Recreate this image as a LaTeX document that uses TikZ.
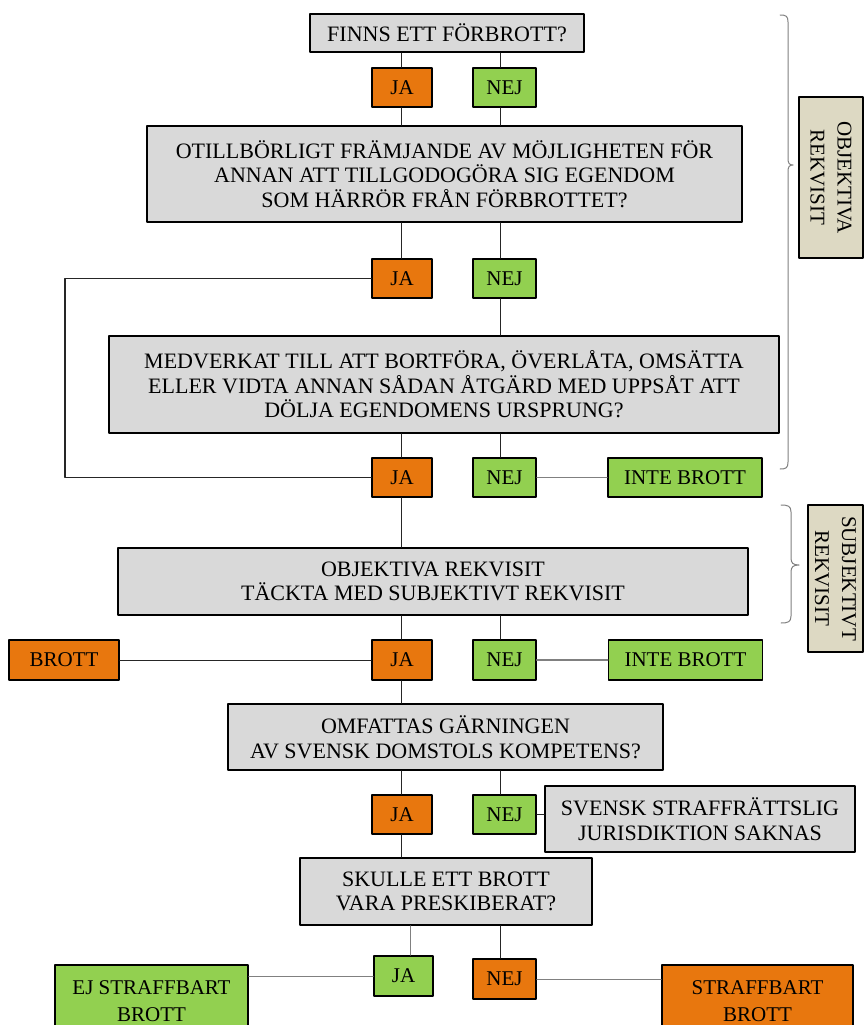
\documentclass[tikz,border=0pt]{standalone}
\usepackage{fontspec}
\setmainfont{Liberation Serif}
\definecolor{boxgray}{HTML}{D9D9D9}
\definecolor{jaorange}{HTML}{E8770E}
\definecolor{nejgreen}{HTML}{92D050}
\definecolor{labelbeige}{HTML}{DDD9C3}
\begin{document}
\begin{tikzpicture}[x=1pt, y=-1pt, font=\fontsize{22}{24.5}\selectfont, line join=round, line cap=round,
	qbox/.style={draw=black, line width=1.6pt, fill=boxgray, inner sep=0pt, align=center},
	orbox/.style={draw=black, line width=1.6pt, fill=jaorange, inner sep=0pt, minimum height=39pt, align=center, font=\fontsize{21}{27}\selectfont},
	grbox/.style={draw=black, line width=1.6pt, fill=nejgreen, inner sep=0pt, minimum height=39pt, align=center, font=\fontsize{21}{27}\selectfont},
	lblbox/.style={draw=black, line width=1.6pt, fill=labelbeige, inner sep=0pt, align=center, rotate=-90, font=\fontsize{21}{27}\selectfont},
	conn/.style={draw=black!85, line width=1pt},
	brace/.style={draw=gray, line width=1pt}]
	\useasboundingbox (0,0) rectangle (864,1025);
	% first question
	\node[qbox, line width=2.4pt, minimum width=274pt, minimum height=38pt] (q1) at (447,33) {FINNS ETT FÖRBROTT?};
	\node[orbox, minimum width=60pt] (ja1) at (402,87.5) {JA};
	\node[grbox, minimum width=63pt] (nej1) at (504.5,87.5) {NEJ};
	\node[qbox, minimum width=595pt, minimum height=96pt] (q2) at (444.5,174) {OTILLBÖRLIGT FRÄMJANDE AV MÖJLIGHETEN FÖR\\ANNAN ATT TILLGODOGÖRA SIG EGENDOM\\SOM HÄRRÖR FRÅN FÖRBROTTET?};
	\node[orbox, minimum width=60pt] (ja2) at (402,278.5) {JA};
	\node[grbox, minimum width=63pt] (nej2) at (504.5,278.5) {NEJ};
	\node[qbox, minimum width=670pt, minimum height=97pt] (q3) at (444,384.5) {MEDVERKAT TILL ATT BORTFÖRA, ÖVERLÅTA, OMSÄTTA\\ELLER VIDTA ANNAN SÅDAN ÅTGÄRD MED UPPSÅT ATT\\DÖLJA EGENDOMENS URSPRUNG?};
	\node[orbox, minimum width=60pt] (ja3) at (402,477.5) {JA};
	\node[grbox, minimum width=63pt] (nej3) at (504.5,477.5) {NEJ};
	\node[grbox, minimum width=154pt] (inte1) at (685,477.5) {INTE BROTT};
	% subjective part
	\node[qbox, minimum width=630pt, minimum height=67pt] (q4) at (433,581.5) {OBJEKTIVA REKVISIT\\TÄCKTA MED SUBJEKTIVT REKVISIT};
	\node[orbox, minimum width=110pt, minimum height=40pt] (brott) at (64,660) {BROTT};
	\node[orbox, minimum width=60pt, minimum height=40pt] (ja4) at (402,660) {JA};
	\node[grbox, minimum width=63pt, minimum height=40pt] (nej4) at (504.5,660) {NEJ};
	\node[grbox, minimum width=154pt, minimum height=40pt] (inte2) at (685.5,660) {INTE BROTT};
	% jurisdiction
	\node[qbox, minimum width=435pt, minimum height=66pt] (q5) at (445.5,737) {OMFATTAS GÄRNINGEN\\AV SVENSK DOMSTOLS KOMPETENS?};
	\node[orbox, minimum width=60pt] (ja5) at (402,814.5) {JA};
	\node[grbox, minimum width=63pt] (nej5) at (504.5,814.5) {NEJ};
	\node[qbox, minimum width=310pt, minimum height=66pt] (svensk) at (700,819) {SVENSK STRAFFRÄTTSLIG\\JURISDIKTION SAKNAS};
	% limitation
	\node[qbox, minimum width=292pt, minimum height=67pt] (q6) at (446,891.5) {SKULLE ETT BROTT\\VARA PRESKIBERAT?};
	\node[grbox, minimum width=59pt, minimum height=40pt] (ja6) at (403.5,976) {JA};
	\node[orbox, minimum width=63pt, minimum height=40pt] (nej6) at (504.5,979) {NEJ};
	\node[grbox, minimum width=193pt, minimum height=73pt, anchor=north] (ej) at (151.5,964) {EJ STRAFFBART\\BROTT};
	\node[orbox, minimum width=191pt, minimum height=73pt, anchor=north] (straff) at (757.5,964) {STRAFFBART\\BROTT};
	% side labels
	\node[lblbox, minimum width=161pt, minimum height=64pt] (objlbl) at (831,177.5) {OBJEKTIVA\\REKVISIT};
	\node[lblbox, minimum width=147pt, minimum height=55pt] (subjlbl) at (835.5,578.5) {SUBJEKTIVT\\REKVISIT};
	\draw[brace] (780,15) .. controls (786,15) and (788,16) .. (788,22) -- (788,158) .. controls (788,163) and (789,165) .. (793,165) .. controls (789,165) and (788,167) .. (788,172) -- (788,462) .. controls (788,468) and (786,469) .. (780,469);
	\draw[brace] (781,505) .. controls (788,505) and (791,506) .. (791,512) -- (791,558) .. controls (791,563) and (793,565) .. (799,565) .. controls (793,565) and (791,567) .. (791,572) -- (791,616) .. controls (791,622) and (788,623) .. (781,623);
	% connectors
	\coordinate (loopL) at (65,0);
	\coordinate (jax) at (401,0);
	\coordinate (nejx) at (500,0);
	\draw[conn] (ja1.north -| jax) -- (q1.south -| jax);
	\draw[conn] (nej1.north -| nejx) -- (q1.south -| nejx);
	\draw[conn] (ja1.south -| jax) -- (q2.north -| jax);
	\draw[conn] (nej1.south -| nejx) -- (q2.north -| nejx);
	\draw[conn] (ja2.north -| jax) -- (q2.south -| jax);
	\draw[conn] (nej2.north -| nejx) -- (q2.south -| nejx);
	\draw[conn] (nej2.south -| nejx) -- (q3.north -| nejx);
	\draw[conn, line width=1.4pt] (ja2.west) -- (ja2.west -| loopL) -- (ja3.west -| loopL) -- (ja3.west);
	\draw[conn] (ja3.north -| jax) -- (q3.south -| jax);
	\draw[conn] (nej3.north -| nejx) -- (q3.south -| nejx);
	\draw[conn, draw=gray] (nej3) -- (inte1);
	\draw[conn] (ja3.south -| jax) -- (q4.north -| jax);
	\draw[conn] (ja4.north -| jax) -- (q4.south -| jax);
	\draw[conn] (nej4.north -| nejx) -- (q4.south -| nejx);
	\draw[conn] (brott) -- (ja4);
	\draw[conn, draw=gray, line width=1.6pt] (nej4) -- (inte2);
	\draw[conn] (ja4.south -| jax) -- (q5.north -| jax);
	\draw[conn] (ja5.north -| jax) -- (q5.south -| jax);
	\draw[conn] (nej5.north -| nejx) -- (q5.south -| nejx);
	\draw[conn] (nej5.east) -- (nej5.east -| svensk.west);
	\draw[conn] (ja5.south -| jax) -- (q6.north -| jax);
	\draw[conn, draw=gray] ([xshift=7pt]ja6.north) -- ([xshift=7pt]ja6.north |- q6.south);
	\draw[conn] (nej6.north -| nejx) -- (q6.south -| nejx);
	\draw[conn, draw=gray] (ja6.west) -- (ja6.west -| ej.east);
	\draw[conn, draw=gray] (nej6.east) -- (nej6.east -| straff.west);
\end{tikzpicture}
\end{document}
